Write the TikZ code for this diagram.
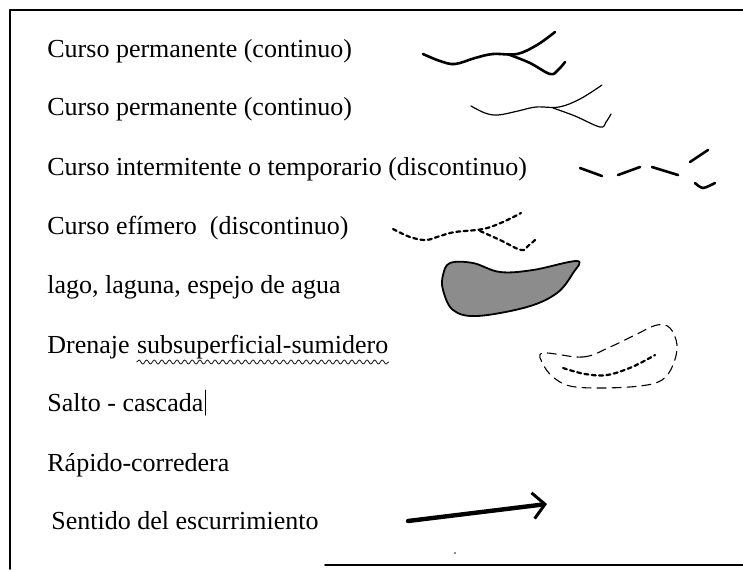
\documentclass[tikz,border=0pt]{standalone}
\usepackage{fontspec}
\setmainfont{Liberation Serif}
\usetikzlibrary{calc, positioning}
\usetikzlibrary{arrows.meta}
\usetikzlibrary{decorations.pathmorphing}

\begin{document}
\begin{tikzpicture}[x=0.5pt, y=-0.5pt, line join=round, line cap=round,
  legendtext/.style={anchor=base west, inner sep=0pt, font=\fontsize{13}{15}\selectfont},
  thickcourse/.style={line width=1.3pt},
  thincourse/.style={line width=0.6pt},
  shortdash/.style={line width=1.1pt, dash pattern=on 2pt off 1.7pt},
  longdash/.style={line width=0.55pt, dash pattern=on 4.5pt off 3pt}]
\useasboundingbox (0,0) rectangle (743,569);

% Frame of the scanned table
\draw[line width=0.8pt] (10,569) -- (10,10) -- (743,10);
\draw[line width=0.8pt] (325,565) -- (743,565);
\fill[black!60] (455,553) circle (0.6pt);

% Legend texts
\node[legendtext] (perm1) at (47,57) {Curso permanente (continuo)};
\node[legendtext] (perm2) at (47,115) {Curso permanente (continuo)};
\node[legendtext] (interm) at (47,175) {Curso intermitente o temporario (discontinuo)};
\node[legendtext] (efim) at (47,234) {Curso efímero\ \ (discontinuo)};
\node[legendtext] (lago) at (47,293) {lago, laguna, espejo de agua};
\node[legendtext] (dren) at (47,353) {Drenaje};
\node[legendtext, base right=3.3pt of dren] (subs) {subsuperficial-sumidero};
\node[legendtext] (salto) at (47,411) {Salto - cascada};
\node[legendtext] (rapido) at (47,471) {Rápido-corredera};
\node[legendtext] (sentido) at (51,529) {Sentido del escurrimiento};

% Spell-check wave and text cursor
\draw[black!85, line width=0.45pt, decorate, decoration={snake, amplitude=1pt, segment length=3.8pt}]
  ($(subs.base west)+(0pt,-4.5pt)$) -- ($(subs.base east)+(0pt,-4.5pt)$);
\draw[line width=0.5pt] ($(salto.base east)+(0.8pt,-2pt)$) -- ($(salto.base east)+(0.8pt,10.5pt)$);

% Permanent course, thick
\draw[thickcourse] plot[smooth, tension=0.6] coordinates
  {(423,54) (440,61) (455,64) (475,58) (493,54) (517,54) (537,45) (555,32)};
\draw[thickcourse] plot[smooth, tension=0.6] coordinates
  {(510,55) (530,63) (550,74) (558,70) (565,62)};

% Permanent course, thin
\draw[thincourse] plot[smooth, tension=0.6] coordinates
  {(471,106) (485,113) (498,115) (518,111) (536,107) (559,107) (580,99) (602,85)};
\draw[thincourse] plot[smooth, tension=0.6] coordinates
  {(553,108) (575,116) (600,127) (606,122) (611,114)};

% Intermittent course, broken strokes
\draw[thickcourse] (580,168) -- (602,176);
\draw[thickcourse] (618,175) -- (640,167);
\draw[thickcourse] (652,167) -- (678,175);
\draw[thickcourse] (690,162) -- (708,150);
\draw[thickcourse] plot[smooth] coordinates {(695,183) (703,188) (715,183)};

% Ephemeral course, dashed
\draw[shortdash] plot[smooth, tension=0.6] coordinates
  {(393,229) (410,237) (426,240) (440,236) (455,232) (483,229) (503,222) (521,213)};
\draw[shortdash] plot[smooth, tension=0.6] coordinates
  {(480,231) (500,240) (521,250) (528,246) (535,240)};

% Lake
\draw[line width=0.9pt, fill=black!45] plot[smooth cycle, tension=0.6] coordinates
  {(450,263) (473,263) (500,272) (533,270) (577,261) (573,273) (557,293)
   (527,307) (477,316) (453,310) (443,290) (443,275)};

% Subsurface drainage
\draw[longdash] plot[smooth cycle, tension=0.6] coordinates
  {(543,353) (583,357) (610,347) (635,335) (657,325) (670,328) (677,345)
   (673,365) (662,380) (640,386) (600,388) (570,386) (553,377) (543,364)};
\draw[shortdash] plot[smooth, tension=0.6] coordinates
  {(563,368) (585,374) (607,375) (632,367) (655,355)};

% Flow direction
\coordinate (flowstart) at (408,521);
\coordinate (flowend) at (547,504);
\draw[line width=2.2pt, -{Straight Barb[length=6pt, width=13pt, line width=1.5pt]}] (flowstart) -- (flowend);
\end{tikzpicture}
\end{document}
